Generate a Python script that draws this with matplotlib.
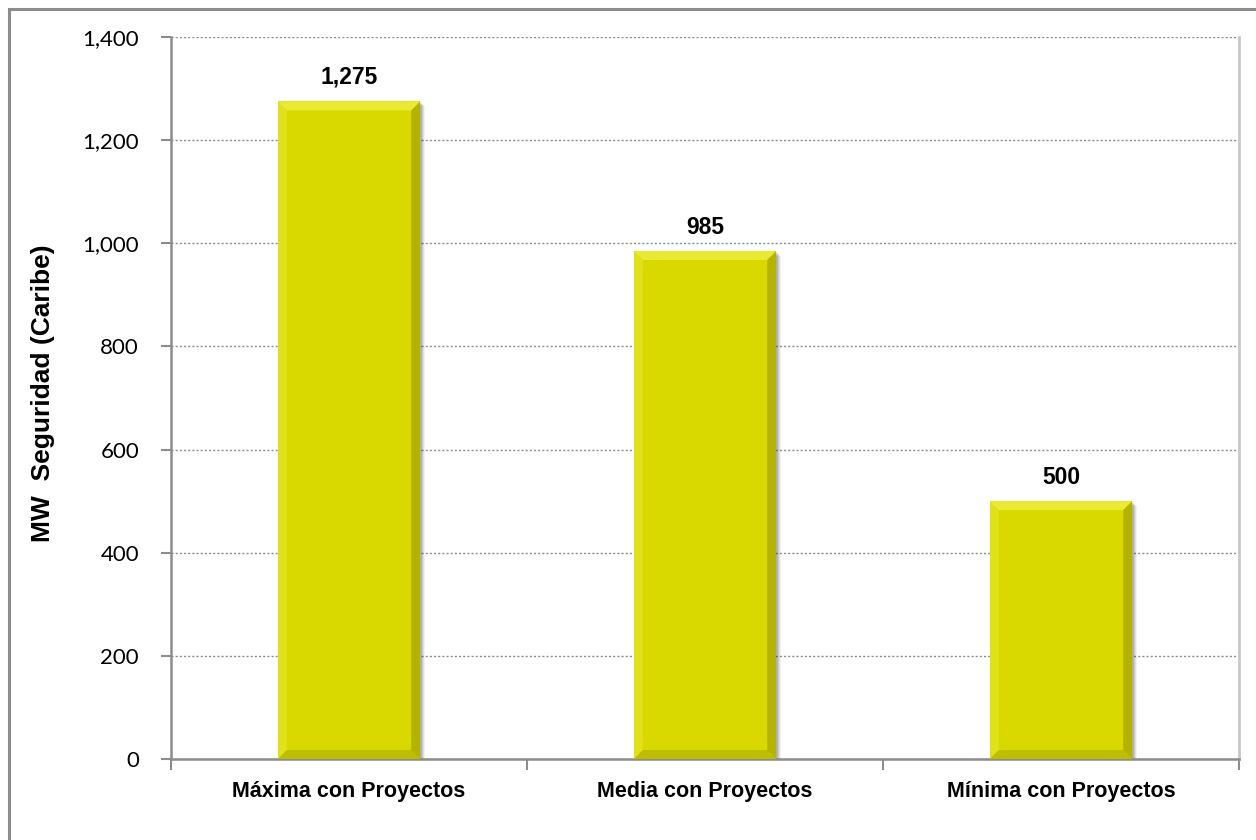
import matplotlib
matplotlib.use("Agg")
import matplotlib.pyplot as plt
from matplotlib.patches import Rectangle, Polygon
from matplotlib.ticker import FixedLocator, FuncFormatter

categories = ["Máxima con Proyectos", "Media con Proyectos", "Mínima con Proyectos"]
values = [1275, 985, 500]
value_labels = ["1,275", "985", "500"]
y_ticks = [0, 200, 400, 600, 800, 1000, 1200, 1400]

BAR_COLOR = "#D9D900"
LIGHT = "#ECEC3C"
DARK = "#A8A800"
AXIS_GRAY = "#8C8C8C"

fig = plt.figure(figsize=(12.56, 8.4), dpi=100)
W, H = 1256, 840

# outer chart-area frame
fig.patches.append(Rectangle((9 / W, -0.1), 1.2, (1 - 9 / H) + 0.1, transform=fig.transFigure,
                             fill=False, edgecolor="#8C8C8C", linewidth=2.2))

ax = fig.add_axes([171 / W, 1 - 759 / H, (1239 - 171) / W, (759 - 37) / H])
ax.set_xlim(-0.5, len(categories) - 0.5)
ax.set_ylim(0, 1400)

bar_w = 0.4
x = list(range(len(categories)))

# soft drop shadow
ax_w_px = 1239 - 171
ax_h_px = 759 - 37
px_x = (len(categories)) / ax_w_px
px_y = 1400 / ax_h_px
for i, v in zip(x, values):
    for k, a in [(5, 0.05), (4, 0.07), (3, 0.09), (2, 0.11)]:
        ax.add_patch(Rectangle((i - bar_w / 2 + k * px_x, -k * px_y), bar_w, v,
                               facecolor="black", alpha=a, linewidth=0, zorder=2))

bars = ax.bar(x, values, width=bar_w, color=BAR_COLOR, edgecolor="none", zorder=3)

# bevelled edges
b = 9
for rect in bars:
    x0 = rect.get_x()
    x1 = x0 + rect.get_width()
    y0 = 0
    y1 = rect.get_height()
    dx, dy = b * px_x, b * px_y
    top = [(x0, y1), (x1, y1), (x1 - dx, y1 - dy), (x0 + dx, y1 - dy)]
    left = [(x0, y0), (x0, y1), (x0 + dx, y1 - dy), (x0 + dx, y0 + dy)]
    right = [(x1, y0), (x1, y1), (x1 - dx, y1 - dy), (x1 - dx, y0 + dy)]
    bottom = [(x0, y0), (x1, y0), (x1 - dx, y0 + dy), (x0 + dx, y0 + dy)]
    ax.add_patch(Polygon(top, closed=True, facecolor=LIGHT, edgecolor="none", alpha=0.9, zorder=4))
    ax.add_patch(Polygon(left, closed=True, facecolor=LIGHT, edgecolor="none", alpha=0.45, zorder=4))
    ax.add_patch(Polygon(right, closed=True, facecolor=DARK, edgecolor="none", alpha=0.75, zorder=4))
    ax.add_patch(Polygon(bottom, closed=True, facecolor=DARK, edgecolor="none", alpha=0.55, zorder=4))

for i, v, lab in zip(x, values, value_labels):
    ax.annotate(lab, (i, v), xytext=(0, 9), textcoords="offset points",
                ha="center", va="bottom", fontsize=16.5, fontweight="bold",
                family="Liberation Sans", color="black", zorder=5)

# grid and axes styling
ax.yaxis.set_major_locator(FixedLocator(y_ticks))
ax.yaxis.set_major_formatter(FuncFormatter(lambda v, p: f"{int(v):,}"))
ax.grid(axis="y", linestyle=(0, (1.5, 1.5)), color="#8C8C8C", linewidth=1.0, zorder=1)
ax.set_axisbelow(True)

ax.spines["top"].set_visible(False)
ax.spines["left"].set_color(AXIS_GRAY)
ax.spines["left"].set_linewidth(1.8)
ax.spines["bottom"].set_color(AXIS_GRAY)
ax.spines["bottom"].set_linewidth(1.8)
ax.spines["right"].set_color("#C8C8C8")
ax.spines["right"].set_linewidth(2.0)

ax.tick_params(axis="y", direction="out", length=7, width=1.5, color=AXIS_GRAY,
               pad=16, labelsize=16)
for t in ax.get_yticklabels():
    t.set_family("Lato")

ax.set_xticks(x)
ax.set_xticklabels(categories, fontsize=15.5, fontweight="bold", family="Liberation Sans")
ax.tick_params(axis="x", which="major", length=0, pad=16)
ax.set_xticks([-0.5, 0.5, 1.5, 2.5], minor=True)
ax.tick_params(axis="x", which="minor", direction="out", length=8, width=1.5, color=AXIS_GRAY)

fig.text(43 / W, 1 - 393 / H, "MW  Seguridad (Caribe)", rotation=90, ha="center", va="center",
         fontsize=19, fontweight="bold", family="Liberation Sans")

fig.savefig("out.png", dpi=100)
